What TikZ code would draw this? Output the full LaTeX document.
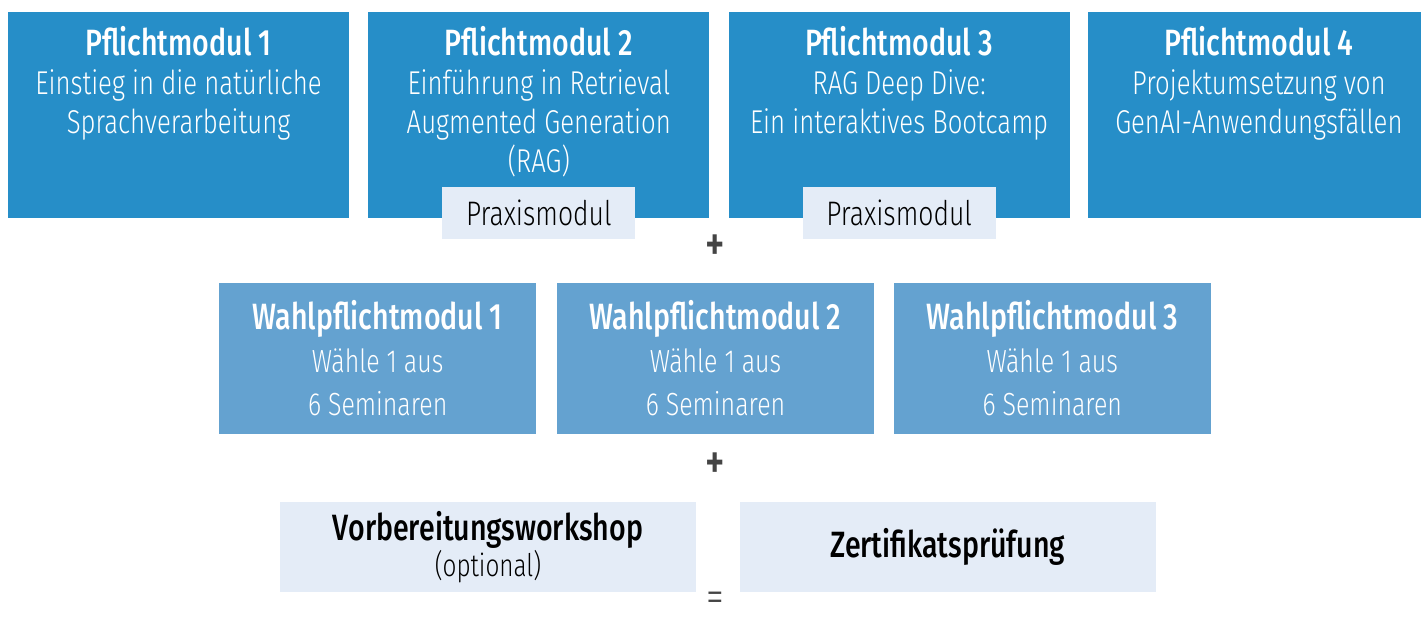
\documentclass[tikz,border=0pt]{standalone}
\usepackage{fontspec}
\setmainfont{Fira Sans}[FakeStretch=0.78,UprightFont=* Light,BoldFont=* Medium]
\usetikzlibrary{positioning}
\definecolor{pblue}{RGB}{38,142,200}
\definecolor{wblue}{RGB}{100,162,208}
\definecolor{pale}{RGB}{228,236,247}
\definecolor{signgray}{RGB}{68,68,68}
\tikzset{
    pflicht/.style={rectangle,fill=pblue,minimum width=170.5pt,minimum height=103pt,inner sep=0pt},
    pflichttext/.style={align=center,text=white,inner sep=0pt,font=\fontsize{16.5}{19.5}\selectfont},
    praxis/.style={rectangle,fill=pale,minimum width=96.5pt,minimum height=26pt,inner sep=0pt,font=\fontsize{17}{18}\selectfont},
    wahl/.style={rectangle,fill=wblue,minimum width=158.5pt,minimum height=75.5pt,inner sep=0pt,align=center,text=white,font=\fontsize{16}{21.5}\selectfont},
    extra/.style={rectangle,fill=pale,minimum width=208pt,minimum height=45pt,inner sep=0pt,align=center,font=\fontsize{15}{18}\selectfont},
    sign/.style={text=signgray,inner sep=0pt,font=\fontsize{24}{24}\selectfont\bfseries}
}
\newcommand{\modhead}[1]{{\bfseries\fontsize{18.3}{19.5}\selectfont #1}}

\begin{document}
\begin{tikzpicture}

    \useasboundingbox (0,0) rectangle (710.5pt,-312pt);

    \node[pflicht] (p1) at (89.25pt,-57.5pt) {};
    \node[pflicht] (p2) [right=9.25pt of p1]  {};
    \node[pflicht] (p3) [right=9.25pt of p2]  {};
    \node[pflicht] (p4) [right=9pt of p3]     {};

    \node[pflichttext] (t1) [below=7pt of p1.north] {\modhead{Pflichtmodul 1}\\Einstieg in die natürliche\\Sprachverarbeitung};
    \node[pflichttext] (t2) [below=7pt of p2.north] {\modhead{Pflichtmodul 2}\\Einführung in Retrieval\\Augmented Generation\\(RAG)};
    \node[pflichttext] (t3) [below=7pt of p3.north] {\modhead{Pflichtmodul 3}\\RAG Deep Dive:\\Ein interaktives Bootcamp};
    \node[pflichttext] (t4) [below=7pt of p4.north] {\modhead{Pflichtmodul 4}\\Projektumsetzung von\\GenAI-Anwendungsfällen};

    \node[praxis] (x2) [below=-16pt of p2.south] {Praxismodul};
    \node[praxis] (x3) [below=-16pt of p3.south] {Praxismodul};

    \node[wahl] (w2) at (357.75pt,-179.25pt) {\modhead{Wahlpflichtmodul 2}\\Wähle 1 aus\\6 Seminaren};
    \node[wahl] (w1) [left=10pt of w2]       {\modhead{Wahlpflichtmodul 1}\\Wähle 1 aus\\6 Seminaren};
    \node[wahl] (w3) [right=9.5pt of w2]     {\modhead{Wahlpflichtmodul 3}\\Wähle 1 aus\\6 Seminaren};

    \node[sign] (plus1) [above=17.5pt of w2.north,anchor=center] {+};
    \node[sign] (plus2) [below=15.5pt of w2.south,anchor=center] {+};

    \node[extra] (e1) at (244pt,-273.5pt) {\modhead{Vorbereitungsworkshop}\\{\fontsize{15.6}{18}\selectfont (optional)}};
    \node[extra] (e2) [right=21.5pt of e1] {\modhead{Zertifikatsprüfung}};

    \coordinate (eqpos) at (w2.south |- e1.south);
    \node[sign] (eq) [below=5pt of eqpos,anchor=center,font=\fontsize{23}{23}\selectfont] {=};

\end{tikzpicture}
\end{document}
